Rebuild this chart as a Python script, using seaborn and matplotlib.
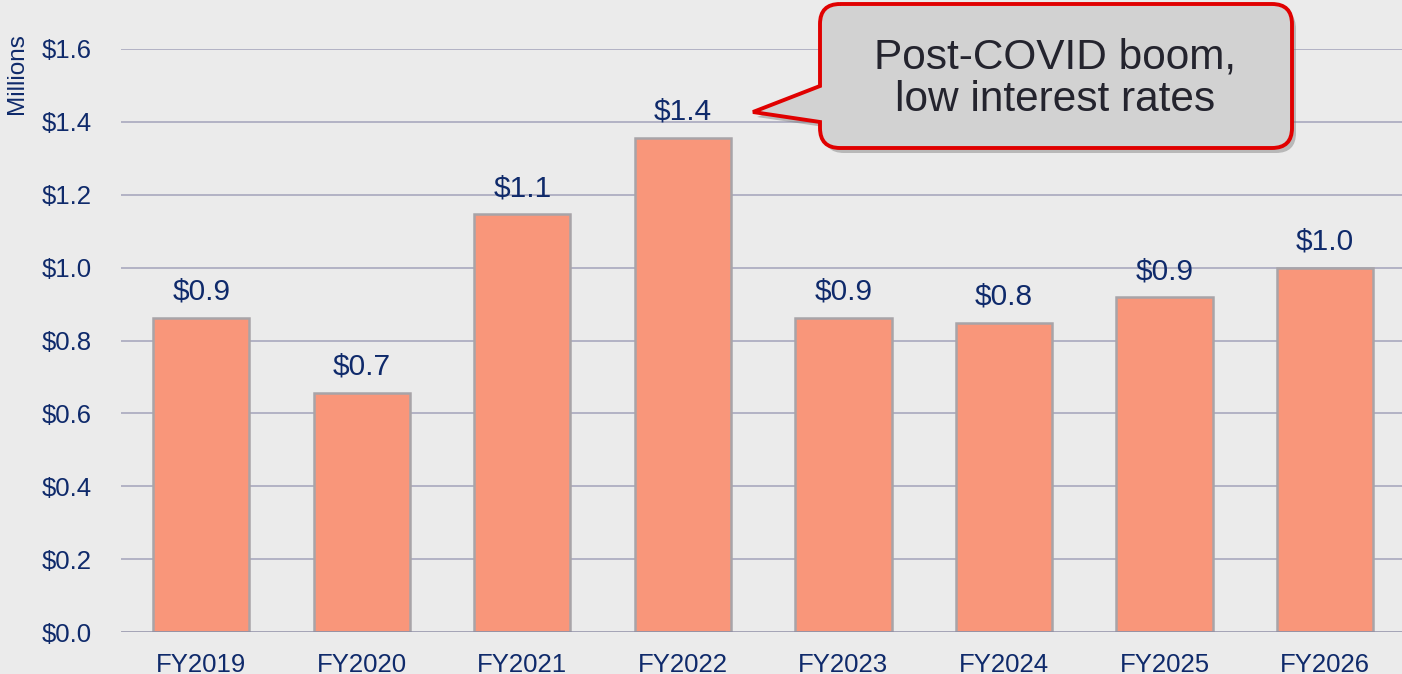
import numpy as np
import matplotlib.pyplot as plt
import seaborn as sns
import pandas as pd
from matplotlib.path import Path
from matplotlib.patches import PathPatch

# values (millions of dollars)
years = ["FY2019", "FY2020", "FY2021", "FY2022", "FY2023", "FY2024", "FY2025", "FY2026"]
values = [0.862, 0.656, 1.147, 1.356, 0.862, 0.848, 0.919, 0.999]
bar_labels = ["$0.9", "$0.7", "$1.1", "$1.4", "$0.9", "$0.8", "$0.9", "$1.0"]
y_ticks = [0.0, 0.2, 0.4, 0.6, 0.8, 1.0, 1.2, 1.4, 1.6]
callout_text = "Post-COVID boom,\nlow interest rates"

bg = "#EBEBEB"
navy = "#0F2A6B"
bar_col = "#F9967A"
grid_col = "#A3A3BA"

sns.set_theme(style="white")
plt.rcParams["font.family"] = ["Liberation Sans", "DejaVu Sans"]

df = pd.DataFrame({"year": years, "value": values})

fig = plt.figure(figsize=(14.02, 6.74), dpi=100, facecolor=bg)
W, H = 1402, 674
ax = fig.add_axes([121 / W, (H - 632) / H, (W - 121) / W, 583 / H])
ax.set_facecolor(bg)

for t in y_ticks[1:]:
    ax.axhline(t, color=grid_col, lw=1.1, zorder=0)
ax.axhline(0, color="#8E8EA6", lw=1.8, zorder=3)

sns.barplot(data=df, x="year", y="value", ax=ax, color=bar_col, width=0.6,
            edgecolor="#A8A4A8", linewidth=1.8, saturation=1, zorder=2)

for i, (v, lab) in enumerate(zip(values, bar_labels)):
    ax.annotate(lab, (i, v), xytext=(0, 13), textcoords="offset points",
                ha="center", va="baseline", fontsize=21.5, color=navy)

ax.set_xlim(-0.5, (W - 201.5) / 160.5)
ax.set_ylim(0, 1.6)
ax.set_yticks(y_ticks)
ax.set_yticklabels([f"${t:.1f}" for t in y_ticks])
ax.tick_params(axis="y", length=0, pad=21, labelsize=18.5, labelcolor=navy)
ax.tick_params(axis="x", length=0, pad=15, labelsize=18.5, labelcolor=navy)
ax.set_xlabel("")
ax.set_ylabel("")
for s in ax.spines.values():
    s.set_visible(False)

fig.text(17 / W, 1 - 74 / H, "Millions", rotation=90, ha="center", va="center",
         fontsize=17.5, color=navy)

# speech-bubble callout, built in pixel space
L, R, T, B, r = 820, 1292, 4, 148, 20
tip = (753, 112)
pts = [(L + r, T), (R - r, T), (R, T), (R, T + r), (R, B - r), (R, B), (R - r, B),
       (L + r, B), (L, B), (L, B - r), (L, 122), tip, (L, 86), (L, T + r), (L, T), (L + r, T)]
codes = [Path.MOVETO, Path.LINETO, Path.CURVE3, Path.CURVE3, Path.LINETO, Path.CURVE3, Path.CURVE3,
         Path.LINETO, Path.CURVE3, Path.CURVE3, Path.LINETO, Path.LINETO, Path.LINETO, Path.LINETO,
         Path.CURVE3, Path.CURVE3]


def to_fig(p, dx=0, dy=0):
    return [((x + dx) / W, 1 - (y + dy) / H) for x, y in p]


shadow = PathPatch(Path(to_fig(pts, 4, 5), codes), transform=fig.transFigure,
                   facecolor="#7A7A7A", edgecolor="none", alpha=0.45, zorder=5)
bubble = PathPatch(Path(to_fig(pts), codes), transform=fig.transFigure,
                   facecolor="#D2D2D2", edgecolor="#E00000", lw=2.8, zorder=6)
fig.patches.extend([shadow, bubble])
fig.text(1055 / W, 1 - 79 / H, callout_text, ha="center", va="center", fontsize=30.5,
         color="#24242E", linespacing=1.08, zorder=7)

fig.savefig("out.png", dpi=100, facecolor=bg)
